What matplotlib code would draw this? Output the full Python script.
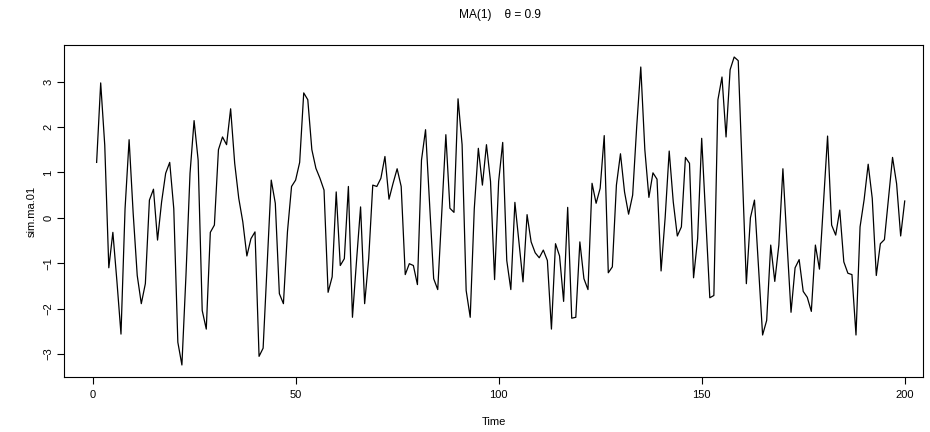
import matplotlib
matplotlib.use("Agg")
from matplotlib import pyplot as plt

plt.rcParams['font.family'] = ['Liberation Sans', 'DejaVu Sans']

# simulated MA(1) series, theta = 0.9
sim_ma_01 = [
    1.22, 2.97, 1.60, -1.10, -0.32, -1.40, -2.56, 0.20, 1.72, 0.10,
    -1.27, -1.89, -1.45, 0.39, 0.63, -0.49, 0.35, 0.98, 1.22, 0.20,
    -2.74, -3.24, -1.27, 0.98, 2.14, 1.27, -2.04, -2.45, -0.32, -0.16,
    1.50, 1.78, 1.61, 2.40, 1.20, 0.43, -0.09, -0.84, -0.46, -0.31,
    -3.05, -2.87, -1.00, 0.83, 0.32, -1.67, -1.89, -0.30, 0.69, 0.83,
    1.22, 2.75, 2.60, 1.50, 1.09, 0.87, 0.61, -1.64, -1.30, 0.57,
    -1.05, -0.90, 0.69, -2.19, -0.95, 0.24, -1.89, -0.90, 0.72, 0.69,
    0.87, 1.35, 0.41, 0.76, 1.08, 0.69, -1.25, -1.01, -1.05, -1.47,
    1.27, 1.94, 0.30, -1.34, -1.58, 0.13, 1.83, 0.21, 0.12, 2.62,
    1.61, -1.60, -2.19, 0.20, 1.53, 0.72, 1.61, 0.80, -1.36, 0.80,
    1.66, -0.94, -1.58, 0.34, -0.53, -1.41, 0.07, -0.53, -0.77, -0.88,
    -0.71, -0.94, -2.45, -0.57, -0.84, -1.84, 0.23, -2.21, -2.19, -0.53,
    -1.34, -1.58, 0.76, 0.32, 0.65, 1.81, -1.21, -1.08, 0.72, 1.41,
    0.57, 0.08, 0.50, 2.01, 3.32, 1.50, 0.45, 0.99, 0.85, -1.17,
    0.00, 1.47, 0.35, -0.40, -0.20, 1.33, 1.20, -1.32, -0.46, 1.75,
    0.00, -1.76, -1.71, 2.60, 3.10, 1.78, 3.26, 3.54, 3.46, 1.00,
    -1.45, 0.00, 0.39, -1.08, -2.58, -2.26, -0.60, -1.40, -0.60, 1.08,
    -0.53, -2.08, -1.10, -0.92, -1.62, -1.75, -2.06, -0.60, -1.13, 0.34,
    1.80, -0.16, -0.38, 0.17, -0.97, -1.22, -1.25, -2.58, -0.20, 0.40,
    1.18, 0.43, -1.27, -0.57, -0.48, 0.43, 1.33, 0.75, -0.40, 0.37,
]
time = list(range(1, len(sim_ma_01) + 1))
xticks = [0, 50, 100, 150, 200]
yticks = [-3, -2, -1, 0, 1, 2, 3]

fig = plt.figure(figsize=(9.3, 4.32), dpi=100)
ax = fig.add_axes([64.3 / 930, 1 - 377.3 / 432, (923 - 64.3) / 930, (377.3 - 44.7) / 432])

ax.plot(time, sim_ma_01, color='black', lw=0.9)

# R style padding (4% of range)
lo, hi = min(sim_ma_01), max(sim_ma_01)
pad = 0.04 * (hi - lo)
ax.set_ylim(lo - pad, hi + pad)
ax.set_xlim(1 - 0.04 * 199, 204.5)

ax.set_xticks(xticks)
ax.set_yticks(yticks)
ax.tick_params(direction='out', length=5, width=0.8, labelsize=8, pad=4, color='black')
ax.tick_params(axis='y', pad=3)
for lab in ax.get_yticklabels():
    lab.set_rotation(90)
    lab.set_va('center')
for sp in ax.spines.values():
    sp.set_linewidth(0.8)
    sp.set_color('black')

ax.set_xlabel("Time", fontsize=8, va='center')
ax.xaxis.set_label_coords(0.5, -(422 - 377.3) / 332.6)
ax.set_ylabel("sim.ma.01", fontsize=8, va='center')
ax.yaxis.set_label_coords((32 - 64.3) / 858.7, 0.5)

fig.text(500 / 930, 1 - 15 / 432, "MA(1)    θ = 0.9", fontsize=8.6, ha='center', va='center')

fig.savefig("out.png", dpi=100)
